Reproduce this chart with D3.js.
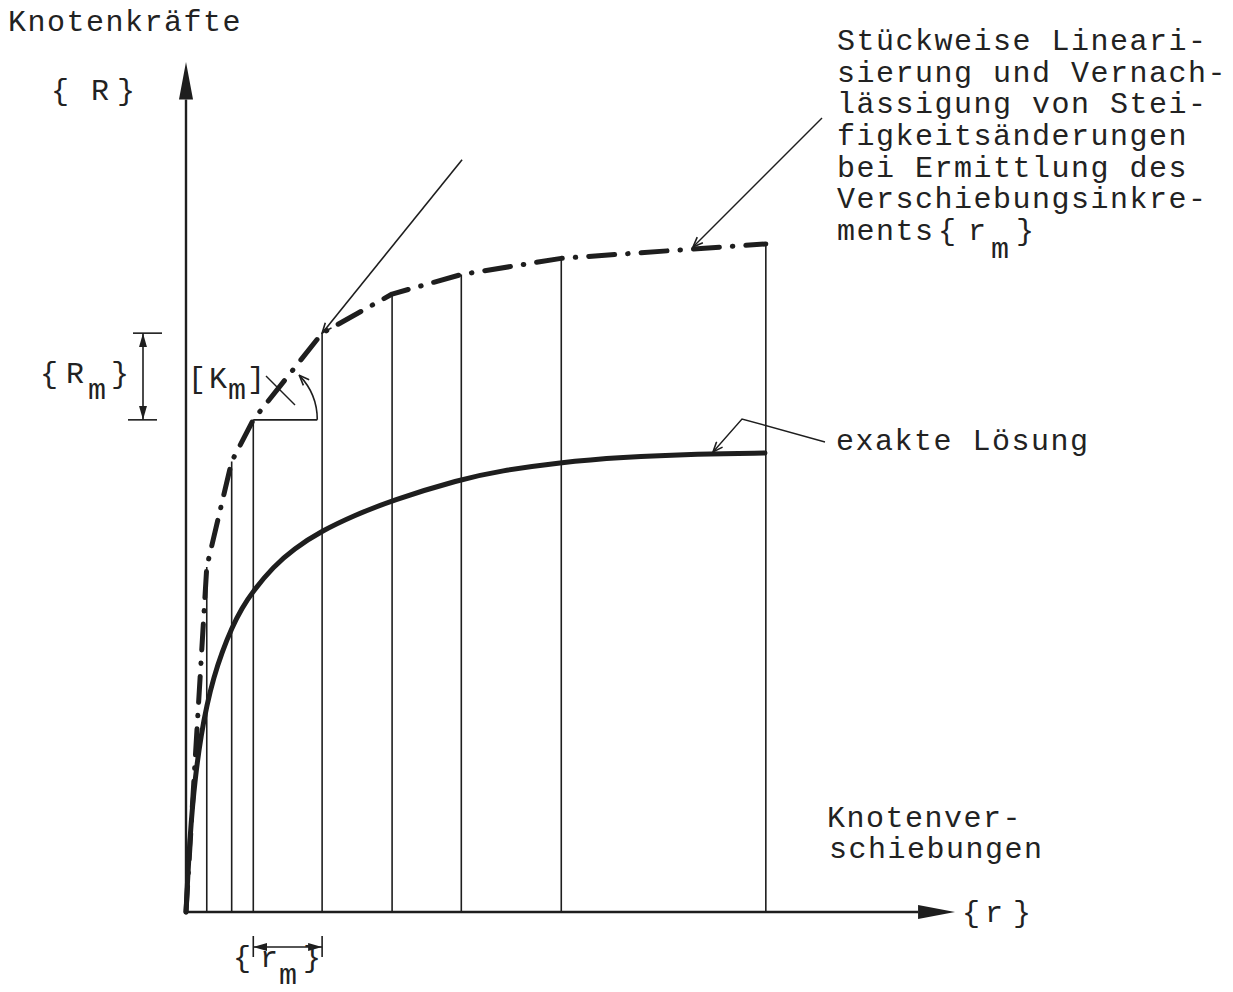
<!DOCTYPE html>
<html>
<head>
<meta charset="utf-8">
<script src="https://cdn.jsdelivr.net/npm/d3@7"></script>
<style>
  html, body { margin: 0; padding: 0; background: #fff; }
  svg { display: block; }
  text { font-family: "Liberation Mono", "DejaVu Sans Mono", monospace; fill: #222; }
</style>
</head>
<body>
<svg id="chart" width="1233" height="992"></svg>
<script>
// ---- Data (schematic units) ----
// Piecewise-linear (incremental) solution: displacement r and load R at each step
const stepDisp = [0, 2.7, 5.94, 8.75, 17.7, 26.8, 35.8, 48.8, 75.4];
const stepLoad = [0, 40.6, 53.0, 57.9, 68.1, 72.7, 75.0, 76.9, 78.6];

// Exact solution
const exactDisp = [0, 0.5, 1.2, 2.0, 2.7, 3.6, 4.7, 5.94, 7.24, 8.75, 11.35, 13.95, 17.78, 21.76, 26.66, 35.63, 40.83, 48.63, 56.44, 66.84, 75.29];
const exactLoad = [0, 9.0, 16.0, 21.0, 24.3, 27.6, 30.6, 33.4, 35.7, 37.8, 40.6, 42.7, 44.9, 46.6, 48.4, 50.9, 51.9, 52.9, 53.5, 53.9, 54.0];

// Tangent stiffness [K_m] drawn from step point m (index 4) towards this point
const tangentEnd = [35.9, 88.5];

// Labels
const yAxisTitle = "Knotenkräfte";
const xAxisTitle = ["Knotenver-", "schiebungen"];
const dashNote = ["Stückweise Lineari-", "sierung und Vernach-", "lässigung von Stei-",
                  "figkeitsänderungen", "bei Ermittlung des", "Verschiebungsinkre-", "ments"];
const exactNote = "exakte Lösung";

// ---- Scales ----
const x = d3.scaleLinear().domain([0, 100]).range([186, 955]);
const y = d3.scaleLinear().domain([0, 100]).range([912, 62]);

const svg = d3.select("#chart");
const ink = "#1e1e1e";
const FS = 30;
const LS = 1.5;

const defs = svg.append("defs");
// open leader arrow
defs.append("marker").attr("id", "open").attr("viewBox", "0 0 12 10")
  .attr("refX", 11).attr("refY", 5).attr("markerWidth", 12).attr("markerHeight", 10)
  .attr("markerUnits", "userSpaceOnUse").attr("orient", "auto")
  .append("path").attr("d", "M1,1 L11,5 L1,9").attr("fill", "none").attr("stroke", ink).attr("stroke-width", 1.6);
// filled dimension arrow
defs.append("marker").attr("id", "fill").attr("viewBox", "0 0 14 8")
  .attr("refX", 14).attr("refY", 4).attr("markerWidth", 14).attr("markerHeight", 8)
  .attr("markerUnits", "userSpaceOnUse").attr("orient", "auto")
  .append("path").attr("d", "M0,0 L14,4 L0,8 Z").attr("fill", ink);
defs.append("marker").attr("id", "fillStart").attr("viewBox", "0 0 14 8")
  .attr("refX", 0).attr("refY", 4).attr("markerWidth", 14).attr("markerHeight", 8)
  .attr("markerUnits", "userSpaceOnUse").attr("orient", "auto")
  .append("path").attr("d", "M14,0 L0,4 L14,8 Z").attr("fill", ink);

// ---- Axes ----
const xArrowBase = 95.2, yArrowBase = 95.6;
svg.append("line").attr("x1", x(0)).attr("y1", y(0)).attr("x2", x(xArrowBase)).attr("y2", y(0))
  .attr("stroke", ink).attr("stroke-width", 2.4);
svg.append("path").attr("d", `M${x(xArrowBase)},${y(0) - 7} L${x(100)},${y(0)} L${x(xArrowBase)},${y(0) + 7} Z`).attr("fill", ink);
svg.append("line").attr("x1", x(0)).attr("y1", y(0)).attr("x2", x(0)).attr("y2", y(yArrowBase))
  .attr("stroke", ink).attr("stroke-width", 2.4);
svg.append("path").attr("d", `M${x(0) - 7},${y(yArrowBase)} L${x(0)},${y(100)} L${x(0) + 7},${y(yArrowBase)} Z`).attr("fill", ink);

// ---- Step verticals ----
svg.append("g").selectAll("line").data(stepDisp.slice(1).map((d, i) => [d, stepLoad[i + 1]]))
  .join("line")
  .attr("x1", d => x(d[0])).attr("x2", d => x(d[0]))
  .attr("y1", y(0)).attr("y2", d => y(d[1]))
  .attr("stroke", ink).attr("stroke-width", 1.6);

// ---- Exact curve ----
const exactPts = exactDisp.map((d, i) => [d, exactLoad[i]]);
svg.append("path").datum(exactPts)
  .attr("d", d3.line().x(d => x(d[0])).y(d => y(d[1])).curve(d3.curveBasis))
  .attr("fill", "none").attr("stroke", ink).attr("stroke-width", 5).attr("stroke-linecap", "round");

// ---- Piecewise-linear dash-dot ----
const stepPts = stepDisp.map((d, i) => [d, stepLoad[i]]);
svg.append("path").datum(stepPts)
  .attr("d", d3.line().x(d => x(d[0])).y(d => y(d[1])))
  .attr("fill", "none").attr("stroke", ink).attr("stroke-width", 5)
  .attr("stroke-linecap", "round").attr("stroke-linejoin", "round")
  .attr("stroke-dasharray", "26,13,0.5,13");

// ---- Tangent [K_m] ----
const m0 = stepPts[3], m1 = stepPts[4];
svg.append("line")
  .attr("x1", x(tangentEnd[0])).attr("y1", y(tangentEnd[1]))
  .attr("x2", x(m1[0])).attr("y2", y(m1[1]))
  .attr("stroke", ink).attr("stroke-width", 1.6).attr("marker-end", "url(#open)");

// angle triangle at step m
const cx = x(m0[0]), cy = y(m0[1]);
svg.append("line").attr("x1", cx).attr("y1", cy).attr("x2", cx + 64).attr("y2", cy)
  .attr("stroke", ink).attr("stroke-width", 1.6);
const rA = 64, aEnd = 44 * Math.PI / 180;
svg.append("path")
  .attr("d", `M${cx + rA},${cy} A${rA},${rA} 0 0 0 ${cx + rA * Math.cos(aEnd)},${cy - rA * Math.sin(aEnd)}`)
  .attr("fill", "none").attr("stroke", ink).attr("stroke-width", 1.6).attr("marker-end", "url(#open)");
// small leader from [K_m]
svg.append("line").attr("x1", 266).attr("y1", 376).attr("x2", 295).attr("y2", 405)
  .attr("stroke", ink).attr("stroke-width", 1.4);

// ---- {R_m} dimension ----
const yTop = y(m1[1]), yBot = y(m0[1]);
svg.append("line").attr("x1", 133).attr("x2", 162).attr("y1", yTop).attr("y2", yTop).attr("stroke", ink).attr("stroke-width", 1.6);
svg.append("line").attr("x1", 128).attr("x2", 157).attr("y1", yBot).attr("y2", yBot).attr("stroke", ink).attr("stroke-width", 1.6);
svg.append("line").attr("x1", 143).attr("x2", 143).attr("y1", yTop).attr("y2", yBot)
  .attr("stroke", ink).attr("stroke-width", 1.6)
  .attr("marker-start", "url(#fillStart)").attr("marker-end", "url(#fill)");

// ---- {r_m} dimension ----
const xL = x(m0[0]), xR = x(m1[0]);
[xL, xR].forEach(v => svg.append("line").attr("x1", v).attr("x2", v).attr("y1", 936).attr("y2", 957)
  .attr("stroke", ink).attr("stroke-width", 1.6));
svg.append("line").attr("x1", xL).attr("x2", xR).attr("y1", 947).attr("y2", 947)
  .attr("stroke", ink).attr("stroke-width", 1.6)
  .attr("marker-start", "url(#fillStart)").attr("marker-end", "url(#fill)");

// ---- Leaders ----
svg.append("line").attr("x1", 822).attr("y1", 118).attr("x2", 693).attr("y2", 247)
  .attr("stroke", ink).attr("stroke-width", 1.4).attr("marker-end", "url(#open)");
svg.append("path").attr("d", "M825,442 L742,419 L713,452")
  .attr("fill", "none").attr("stroke", ink).attr("stroke-width", 1.4).attr("marker-end", "url(#open)");

// ---- Text ----
function t(str, xx, yy, anchor) {
  const el = svg.append("text").attr("x", xx).attr("y", yy).attr("font-size", FS)
    .attr("text-anchor", anchor || "start").text(str);
  if (!anchor || anchor === "start") el.attr("letter-spacing", LS);
  return el;
}
t(yAxisTitle, 8, 31);
t("{", 60, 100, "middle"); t("R", 100, 100, "middle"); t("}", 126, 100, "middle");

t("{", 49, 383, "middle"); t("R", 75, 383, "middle"); t("m", 97, 399, "middle"); t("}", 120, 383, "middle");
t("[", 197, 388, "middle"); t("K", 218, 388, "middle"); t("m", 237, 399, "middle"); t("]", 256, 388, "middle");

dashNote.forEach((s, i) => t(s, 837, 50 + i * 31.67));
t("{", 947, 240, "middle"); t("r", 977, 240, "middle"); t("m", 1000, 258, "middle"); t("}", 1025, 240, "middle");

t(exactNote, 836, 450);
t(xAxisTitle[0], 827, 827);
t(xAxisTitle[1], 829, 858);
t("{", 971, 922, "middle"); t("r", 994, 922, "middle"); t("}", 1022, 922, "middle");

t("{", 242, 967, "middle"); t("r", 269, 967, "middle"); t("m", 288, 984, "middle"); t("}", 312, 967, "middle");
</script>
</body>
</html>
